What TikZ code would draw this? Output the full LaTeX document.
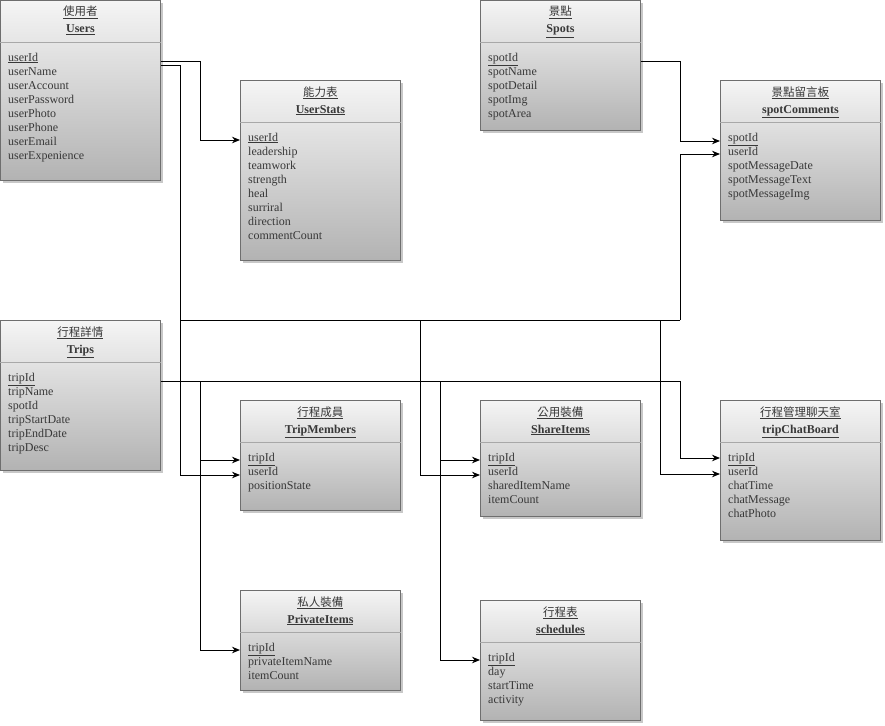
\documentclass[tikz,border=0pt]{standalone}
\usepackage{fontspec}
\setmainfont{Liberation Serif}
\newfontfamily\cjk{Noto Sans CJK TC}
\usetikzlibrary{arrows.meta,calc}
\definecolor{boxline}{HTML}{6E6E6E}
\definecolor{sepline}{HTML}{A8A8A8}
\definecolor{shadowc}{HTML}{C8C8C8}
\definecolor{txt}{HTML}{383838}
\tikzset{
  ebox/.style={draw=boxline, line width=0.9pt, top color=white!96!black, bottom color=black!30, minimum width=160pt, inner sep=0pt, rectangle},
  attr/.style={inner sep=0pt, text=txt, font=\fontsize{12}{14}\selectfont},
  ttlcn/.style={inner sep=0pt, text=txt, font=\cjk\fontsize{11.5}{14}\selectfont},
  ttlen/.style={inner sep=0pt, text=txt, font=\bfseries\fontsize{12}{14}\selectfont},
  link/.style={draw=black, line width=0.95pt, -{Stealth[length=8pt,width=6.5pt]}},
  plain/.style={draw=black, line width=0.95pt},
}
\newcommand\entity[7]{%
  \fill[shadowc] (#2+3,#3+3) rectangle ++(160,#4);
  \node[ebox, minimum height=#4pt, anchor=north west] (#1) at (#2,#3) {};
  \draw[sepline, line width=0.8pt] ([yshift=-42pt]#1.north west) -- ([yshift=-42pt]#1.north east);
  \node[ttlcn, anchor=base] (#1-cn) at ([yshift=-16pt]#1.north) {\underline{#5}};
  \node[ttlen, anchor=base] (#1-en) at ([yshift=-33pt]#1.north) {\underline{#6}};
  \foreach \a [count=\i from 0] in {#7}
    \node[attr, anchor=base west] (#1-a\i) at ([xshift=8pt,yshift={-61pt-14pt*\i}]#1.north west) {\a};
}
\begin{document}
\begin{tikzpicture}[x=1pt,y=-1pt]
\useasboundingbox (0,0) rectangle (885,725);
\entity{users}{0}{0}{180}{使用者}{Users}{\underline{userId},userName,userAccount,userPassword,userPhoto,userPhone,userEmail,userExpenience}
\entity{userstats}{240}{80}{180}{能力表}{UserStats}{\underline{userId},leadership,teamwork,strength,heal,surriral,direction,commentCount}
\entity{spots}{480}{0}{130}{景點}{Spots}{\underline{spotId},spotName,spotDetail,spotImg,spotArea}
\entity{spotcomments}{720}{80}{140}{景點留言板}{spotComments}{\underline{spotId},userId,spotMessageDate,spotMessageText,spotMessageImg}
\entity{trips}{0}{320}{150}{行程詳情}{Trips}{\underline{tripId},tripName,spotId,tripStartDate,tripEndDate,tripDesc}
\entity{tripmembers}{240}{400}{110}{行程成員}{TripMembers}{\underline{tripId},userId,positionState}
\entity{shareitems}{480}{400}{116}{公用裝備}{ShareItems}{\underline{tripId},userId,sharedItemName,itemCount}
\entity{tripchat}{720}{400}{140}{行程管理聊天室}{tripChatBoard}{\underline{tripId},userId,chatTime,chatMessage,chatPhoto}
\entity{privateitems}{240}{590}{100}{私人裝備}{PrivateItems}{\underline{tripId},privateItemName,itemCount}
\entity{schedules}{480}{600}{120}{行程表}{schedules}{\underline{tripId},day,startTime,activity}
% junction coordinates
\coordinate (uA) at (180,320);
\coordinate (uB) at (420,320);
\coordinate (uC) at (660,320);
\coordinate (uD) at (680,320);
\coordinate (tA) at (200,381);
\coordinate (tB) at (200,460);
\coordinate (tC) at (440,381);
\coordinate (tD) at (440,460);
\coordinate (tE) at (680,381);
% Users links
\draw[link] ([yshift=-61pt]users.north east) -- ++(40,0) |- ([yshift=-60pt]userstats.north west);
\draw[link] ([yshift=-65pt]users.north east) -- ++(20,0) |- ([yshift=-75pt]tripmembers.north west);
\draw[plain] (uA) -- (uD);
\draw[link] (uD) |- ([yshift=-74pt]spotcomments.north west);
\draw[link] (uB) |- ([yshift=-75pt]shareitems.north west);
\draw[link] (uC) |- ([yshift=-74pt]tripchat.north west);
% Spots link
\draw[link] ([yshift=-61pt]spots.north east) -- ++(40,0) |- ([yshift=-61pt]spotcomments.north west);
% Trips links
\draw[plain] ([yshift=-61pt]trips.north east) -- (tE);
\draw[link] (tE) |- ([yshift=-58pt]tripchat.north west);
\draw[link] (tA) |- ([yshift=-60pt]privateitems.north west);
\draw[link] (tB) -- ([yshift=-60pt]tripmembers.north west);
\draw[link] (tC) |- ([yshift=-60pt]schedules.north west);
\draw[link] (tD) -- ([yshift=-60pt]shareitems.north west);
\end{tikzpicture}
\end{document}
